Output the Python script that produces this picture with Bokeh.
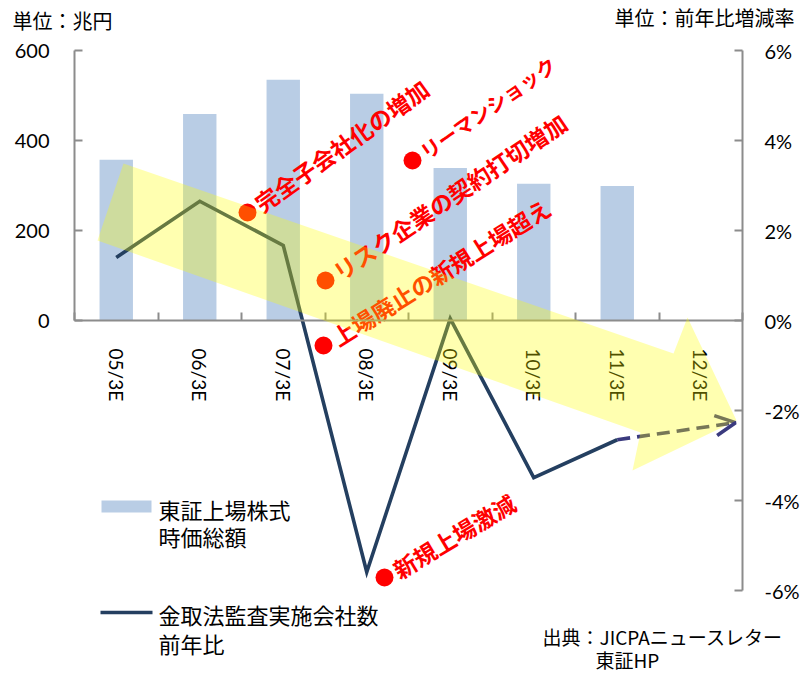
import math
from bokeh.plotting import figure
from bokeh.models import (Range1d, LinearAxis, FixedTicker, CustomJSTickFormatter,
                          Label, Arrow, OpenHead, ColumnDataSource, PrintfTickFormatter)
from bokeh.embed import file_html
from bokeh.resources import INLINE
from bokeh.core.properties import value

# ---------------- data ----------------
categories = ["05/3E", "06/3E", "07/3E", "08/3E", "09/3E", "10/3E", "11/3E", "12/3E"]
bar_categories = ["05/3E", "06/3E", "07/3E", "08/3E", "09/3E", "10/3E", "11/3E"]
market_cap = [357, 459, 535, 504, 339, 304, 299]             # 東証上場株式時価総額 (兆円)
audit_growth = [1.40, 2.65, 1.67, -5.59, 0.04, -3.49, -2.65]  # 金取法監査実施会社数 前年比 (%)
forecast_end = -2.27                                          # dashed projection end (%)
left_ticks = [0, 200, 400, 600]
right_ticks = [-6, -4, -2, 0, 2, 4, 6]

events = ["完全子会社化の増加", "リーマンショック", "リスク企業の契約打切増加",
          "上場廃止の新規上場超え", "新規上場激減"]

JP = "Noto Sans CJK JP"
NUM = "Lato"

# ---------------- layout helpers (reference pixel -> data) ----------------
W, H = 800, 673
FRAME_L, FRAME_R = 74, 742
ZERO_Y = 320
PX_PER_PCT = 45.0
N = len(categories)
PX_PER_CAT = (FRAME_R - FRAME_L) / N


def sx(px):
    return (px - FRAME_L) / PX_PER_CAT


def sy(py):
    return (ZERO_Y - py) / PX_PER_PCT


def cx(cat):
    # category -> slot centre on the numeric x scale
    return categories.index(cat) + 0.5


pct_hi, pct_lo = sy(0), sy(H)

p = figure(width=W, height=H, output_backend="svg", toolbar_location=None,
           x_range=Range1d(sx(0), sx(W)), y_range=Range1d(pct_lo * 100, pct_hi * 100),
           x_axis_location=None, y_axis_location=None,
           min_border_left=0, min_border_right=0, min_border_top=0, min_border_bottom=0)
p.extra_y_ranges = {"pct": Range1d(pct_lo, pct_hi)}
p.outline_line_color = None
p.grid.visible = False
p.background_fill_color = "white"
p.border_fill_color = "white"

AX = "#8C8C8C"

# left axis (兆円)
ly = LinearAxis(ticker=FixedTicker(ticks=left_ticks), bounds=(0, 600), fixed_location=0,
                axis_line_color=AX, axis_line_width=2, major_tick_line_color=AX,
                major_tick_line_width=2, major_tick_in=8, major_tick_out=0,
                minor_tick_line_color=None, major_label_standoff=25,
                major_label_text_font=NUM, major_label_text_font_size="20px",
                major_label_text_color="black")
p.add_layout(ly, "left")

# right axis (%)
ry = LinearAxis(y_range_name="pct", ticker=FixedTicker(ticks=right_ticks), bounds=(-6, 6),
                fixed_location=N, formatter=PrintfTickFormatter(format="%d%%"),
                axis_line_color=AX, axis_line_width=2, major_tick_line_color=AX,
                major_tick_line_width=2, major_tick_in=8, major_tick_out=0,
                minor_tick_line_color=None, major_label_standoff=22,
                major_label_text_font=NUM, major_label_text_font_size="20px",
                major_label_text_color="black")
p.add_layout(ry, "right")

# x axis line with boundary ticks, at zero
xt = LinearAxis(ticker=FixedTicker(ticks=list(range(N + 1))), fixed_location=0,
                bounds=(0, N),
                axis_line_color=AX, axis_line_width=2, major_tick_line_color=AX,
                major_tick_line_width=2, major_tick_in=8, major_tick_out=0,
                minor_tick_line_color=None, major_label_text_color=None)
p.add_layout(xt, "below")

# category labels at slot centres
xl = LinearAxis(ticker=FixedTicker(ticks=[cx(c) for c in categories]), fixed_location=0,
                formatter=CustomJSTickFormatter(args=dict(cats=categories),
                                                code="return cats[Math.floor(tick)];"),
                axis_line_color=None, major_tick_line_color=None, minor_tick_line_color=None,
                major_label_orientation="vertical", major_label_standoff=22,
                major_label_text_font=NUM, major_label_text_font_size="19px",
                major_label_text_color="black")
p.add_layout(xl, "below")

# bars
p.vbar(x=[cx(c) for c in bar_categories], top=market_cap, bottom=0, width=0.4,
       fill_color="#B9CDE5", line_color=None)

# line
p.line(x=[cx(c) for c in bar_categories], y=audit_growth, y_range_name="pct",
       line_color="#243F60", line_width=3.6, line_join="miter")

# dashed projection arrow
p.add_layout(Arrow(end=OpenHead(size=20, line_color="#3A3A7E", line_width=3.6),
                   x_start=cx(bar_categories[-1]), y_start=audit_growth[-1],
                   x_end=sx(735), y_end=forecast_end,
                   line_color="#3A3A7E", line_width=3.6, line_dash="13 7",
                   y_range_name="pct"))

# event markers and labels
dot_px = [(247, 212), (412, 160), (325, 280), (323, 345), (384, 577)]
angles_deg = [35.5, 35, 34, 32, 31]
sizes = ["23px", "20px", "23px", "23px", "23px"]
off = 12
ev = ColumnDataSource(dict(
    x=[sx(a) for a, b in dot_px], y=[sy(b) for a, b in dot_px], text=events,
    angle=[math.radians(a) for a in angles_deg], fs=sizes,
    xo=[off * math.cos(math.radians(a)) for a in angles_deg],
    yo=[-off * math.sin(math.radians(a)) for a in angles_deg]))
p.scatter(x="x", y="y", source=ev, size=18, fill_color="#FF0000", line_color=None,
          y_range_name="pct")
p.text(x="x", y="y", text="text", angle="angle", x_offset="xo", y_offset="yo", source=ev,
       text_font=value(JP), text_font_style="bold", text_font_size="fs",
       text_color="#FF0000", text_align="left", text_baseline="middle", y_range_name="pct")

# legend swatches
p.quad(left=sx(101), right=sx(151), top=sy(500), bottom=sy(512), fill_color="#B9CDE5",
       line_color=None, y_range_name="pct")
p.segment(x0=sx(100), x1=sx(152), y0=sy(612), y1=sy(612), line_color="#243F60",
          line_width=3.6, y_range_name="pct")

# big yellow arrow (overlay)
arrow_px = [(123, 163), (673, 353), (687, 317), (736, 420), (632, 470), (640, 432), (97, 240)]
p.patch(x=[sx(a) for a, b in arrow_px], y=[sy(b) for a, b in arrow_px],
        fill_color="#FFFF00", fill_alpha=0.31, line_color=None, y_range_name="pct",
        level="overlay")

# texts
texts = [
    ("単位：兆円", 12, 20, 20),
    ("単位：前年比増減率", 614, 17, 20),
    ("東証上場株式", 158, 508, 22),
    ("時価総額", 158, 535, 22),
    ("金取法監査実施会社数", 158, 613, 22),
    ("前年比", 158, 642, 22),
    ("出典：JICPAニュースレター", 542, 636, 19),
    ("東証HP", 595, 659, 19),
]
for t, xp, yp, fs in texts:
    p.add_layout(Label(x=sx(xp), y=sy(yp), text=t, y_range_name="pct",
                       text_font=JP, text_font_size=f"{fs}px", text_color="black",
                       text_align="left", text_baseline="middle"))

open("out.html", "w").write(file_html(p, INLINE))
